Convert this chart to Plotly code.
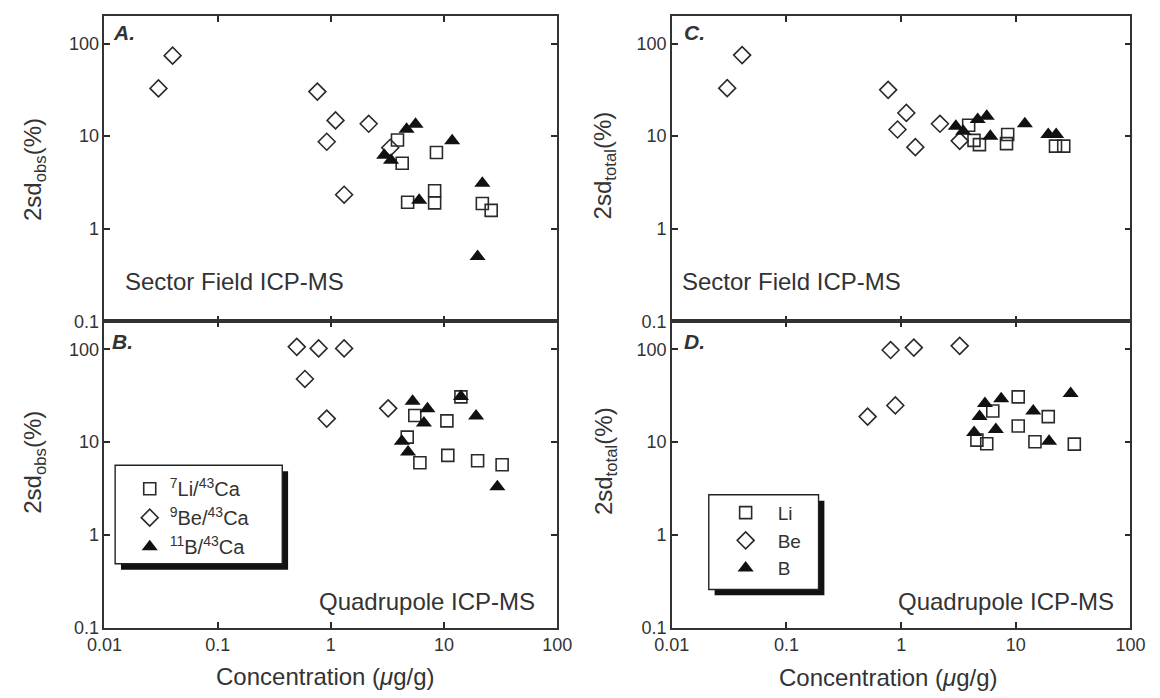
import plotly.graph_objects as go

W, H = 1160, 698

# ---- Panel A: Sector Field, 2sd_obs ----
A_li_x = [3.88, 4.27, 8.57, 4.77, 8.26, 8.26, 21.8, 26.1]
A_li_y = [9.1, 5.1, 6.65, 1.93, 2.57, 1.90, 1.87, 1.58]
A_be_x = [0.030, 0.040, 0.76, 1.10, 0.92, 2.16, 1.31, 3.35]
A_be_y = [32.8, 74, 30.3, 14.8, 8.7, 13.6, 2.33, 7.5]
A_b_x = [2.96, 3.40, 4.67, 5.6, 11.8, 6.03, 21.8, 19.8]
A_b_y = [6.2, 5.5, 11.9, 13.4, 8.9, 2.03, 3.1, 0.50]

# ---- Panel B: Quadrupole, 2sd_obs ----
B_li_x = [5.52, 10.6, 4.73, 6.12, 10.8, 19.8, 32.6, 14.1]
B_li_y = [19.3, 16.9, 11.3, 6.0, 7.2, 6.3, 5.7, 30.7]
B_be_x = [0.50, 0.78, 1.31, 0.59, 0.92, 3.21]
B_be_y = [106, 102, 102, 47.8, 17.9, 23.1]
B_b_x = [5.28, 7.14, 6.64, 4.24, 4.81, 14.1, 19.2, 29.6]
B_b_y = [27.6, 22.9, 16.1, 10.2, 7.8, 31.0, 19.1, 3.3]

# ---- Panel C: Sector Field, 2sd_total ----
C_li_x = [3.88, 4.32, 4.82, 8.5, 8.3, 22.2, 26.2]
C_li_y = [13.1, 9.0, 8.1, 10.4, 8.3, 7.8, 7.8]
C_be_x = [0.0304, 0.041, 0.77, 1.11, 0.93, 1.33, 2.18, 3.24]
C_be_y = [33, 75, 31.6, 17.8, 11.8, 7.6, 13.6, 8.9]
C_b_x = [3.0, 3.48, 4.65, 5.58, 6.0, 12.0, 19.2, 22.5]
C_b_y = [12.8, 11.3, 15.1, 16.4, 10.0, 13.6, 10.4, 10.4]

# ---- Panel D: Quadrupole, 2sd_total ----
D_li_x = [10.5, 6.3, 10.5, 19.2, 4.58, 5.58, 14.7, 32.4]
D_li_y = [30.7, 21.6, 14.9, 18.8, 10.5, 9.6, 10.1, 9.5]
D_be_x = [0.81, 1.29, 3.24, 0.51, 0.89]
D_be_y = [98, 104, 108.6, 18.8, 24.8]
D_b_x = [5.38, 7.46, 4.83, 4.33, 6.7, 14.2, 19.5, 30.1]
D_b_y = [26, 29.2, 18.8, 12.7, 13.7, 21.6, 10.2, 33.3]

tick_vals_x = [0.01, 0.1, 1, 10, 100]
tick_text_x = ["0.01", "0.1", "1", "10", "100"]
tick_vals_y = [0.1, 1, 10, 100]
tick_text_y = ["0.1", "1", "10", "100"]

names_iso = ["<sup>7</sup>Li/<sup>43</sup>Ca", "<sup>9</sup>Be/<sup>43</sup>Ca", "<sup>11</sup>B/<sup>43</sup>Ca"]
names_el = ["Li", "Be", "B"]

FONT = "Arial, Liberation Sans, sans-serif"
INK = "#2a2a2a"


def px(X):
    return X / W


def py(Y):
    return 1 - Y / H


fig = go.Figure()

sq = dict(symbol="square-open", size=12, color=INK, line=dict(width=1.6, color=INK))
dm = dict(symbol="diamond-open", size=13, color=INK, line=dict(width=1.6, color=INK))
tr = dict(symbol="triangle-up", size=14, color="#111", line=dict(width=0))

panels = [
    ("x", "y", (A_li_x, A_li_y), (A_be_x, A_be_y), (A_b_x, A_b_y), None, None),
    ("x2", "y2", (B_li_x, B_li_y), (B_be_x, B_be_y), (B_b_x, B_b_y), "legend", names_iso),
    ("x3", "y3", (C_li_x, C_li_y), (C_be_x, C_be_y), (C_b_x, C_b_y), None, None),
    ("x4", "y4", (D_li_x, D_li_y), (D_be_x, D_be_y), (D_b_x, D_b_y), "legend2", names_el),
]

for xa, ya, li, be, b, leg, nm in panels:
    for (xs, ys), mk, i in ((li, sq, 0), (be, dm, 1), (b, tr, 2)):
        kw = dict(
            x=xs, y=ys, xaxis=xa, yaxis=ya, mode="markers", marker=mk,
            showlegend=leg is not None, name=nm[i] if nm else "",
            hoverinfo="x+y",
        )
        if leg is not None:
            kw["legend"] = leg
        fig.add_trace(go.Scatter(**kw))

xL = [px(89), px(555)]
xR = [px(673), px(1145)]
yT = [py(326), py(16)]
yB = [py(637), py(326)]

common = dict(
    type="log", ticks="inside", ticklen=6, tickwidth=1.5, tickcolor=INK,
    showline=True, linecolor="#333", linewidth=1.6, mirror="allticks",
    showgrid=False, zeroline=False,
    tickfont=dict(family=FONT, size=18, color="#333"),
)

def xax(dom, anchor, labels):
    return dict(common, domain=dom, anchor=anchor, range=[-2, 2],
                tickvals=tick_vals_x, ticktext=tick_text_x, showticklabels=labels)

def yax(dom, anchor):
    return dict(common, domain=dom, anchor=anchor, range=[-1, 2.3],
                tickvals=tick_vals_y, ticktext=tick_text_y)

fig.update_layout(
    xaxis=xax(xL, "y", False), yaxis=yax(yT, "x"),
    xaxis2=xax(xL, "y2", True), yaxis2=yax(yB, "x2"),
    xaxis3=xax(xR, "y3", False), yaxis3=yax(yT, "x3"),
    xaxis4=xax(xR, "y4", True), yaxis4=yax(yB, "x4"),
)

shapes = []
def legend_box(x0, y0, x1, y1, off=6):
    shapes.append(dict(type="rect", xref="paper", yref="paper",
                       x0=px(x0 + off), x1=px(x1 + off), y0=py(y1 + off), y1=py(y0 + off),
                       fillcolor="#111", line=dict(width=0), layer="above"))
    shapes.append(dict(type="rect", xref="paper", yref="paper",
                       x0=px(x0), x1=px(x1), y0=py(y1), y1=py(y0),
                       fillcolor="white", line=dict(width=1.4, color="#222"), layer="above"))

legend_box(100, 472, 272, 572)
legend_box(711, 502, 824, 598)

ann = []
def text(X, Y, s, size=20, xanchor="left", bold=False, italic=False, angle=0):
    if italic:
        s = "<i>" + s + "</i>"
    if bold:
        s = "<b>" + s + "</b>"
    ann.append(dict(x=px(X), y=py(Y), xref="paper", yref="paper", text=s,
                    showarrow=False, xanchor=xanchor, yanchor="middle", textangle=angle,
                    font=dict(family=FONT, size=size, color="#333")))

text(96, 33, "A.", 21, bold=True, italic=True)
text(95, 346, "B.", 21, bold=True, italic=True)
text(683, 33, "C.", 21, bold=True, italic=True)
text(683, 346, "D.", 21, bold=True, italic=True)

text(108, 286, "Sector Field ICP-MS", 24)
text(681, 286, "Sector Field ICP-MS", 24)
text(534, 610, "Quadrupole ICP-MS", 24, xanchor="right")
text(1130, 610, "Quadrupole ICP-MS", 24, xanchor="right")

text(316, 686, "Concentration (<i>μ</i>g/g)", 24, xanchor="center")
text(896, 687, "Concentration (<i>μ</i>g/g)", 24, xanchor="center")

text(17, 172, "2sd<sub>obs</sub>(%)", 24, xanchor="center", angle=-90)
text(17, 469, "2sd<sub>obs</sub>(%)", 24, xanchor="center", angle=-90)
text(604, 168, "2sd<sub>total</sub>(%)", 24, xanchor="center", angle=-90)
text(604, 468, "2sd<sub>total</sub>(%)", 24, xanchor="center", angle=-90)

fig.update_layout(
    width=W, height=H, margin=dict(l=0, r=0, t=0, b=0),
    paper_bgcolor="white", plot_bgcolor="white",
    font=dict(family=FONT, color="#333"),
    shapes=shapes, annotations=ann,
    legend=dict(x=px(115), y=py(476), xanchor="left", yanchor="top",
                bgcolor="rgba(0,0,0,0)", borderwidth=0, itemwidth=30,
                font=dict(family=FONT, size=20, color="#333"), tracegroupgap=0),
    legend2=dict(x=px(716), y=py(501), xanchor="left", yanchor="top",
                 bgcolor="rgba(0,0,0,0)", borderwidth=0, itemwidth=54,
                 font=dict(family=FONT, size=19, color="#333"), tracegroupgap=0),
)

fig.write_html("out.html", config={"displayModeBar": False},
               post_script="document.body.style.margin='0px';")
